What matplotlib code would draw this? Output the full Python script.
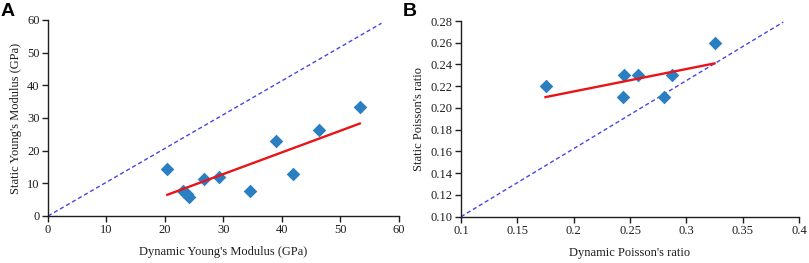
import numpy as np
import matplotlib
matplotlib.use('Agg')
import matplotlib.pyplot as plt

# Panel A: Young's modulus (GPa)
dyn_E = [20.4, 23.0, 23.7, 24.1, 26.7, 29.3, 34.5, 38.9, 41.9, 46.4, 53.3]
sta_E = [14.5, 7.7, 6.8, 5.8, 11.4, 12.0, 7.7, 22.9, 12.9, 26.2, 33.3]
fit_E_x = [20.4, 53.3]
fit_E_y = [6.5, 28.3]
diag_E_x = [0, 57]
diag_E_y = [0, 59]

# Panel B: Poisson's ratio
dyn_nu = [0.175, 0.245, 0.244, 0.257, 0.280, 0.287, 0.325]
sta_nu = [0.22, 0.23, 0.21, 0.23, 0.21, 0.23, 0.26]
fit_nu_x = [0.175, 0.325]
fit_nu_y = [0.210, 0.241]
diag_nu_x = [0.1, 0.386]
diag_nu_y = [0.1, 0.279]

serif = 'Liberation Serif'
pt_color = '#2a7fc1'
ink = '#1e1e1e'

fig = plt.figure(figsize=(8.09, 2.63), dpi=100)
W, H = 809., 263.
axA = fig.add_axes([48 / W, 1 - 216 / H, 351 / W, 196 / H])
axB = fig.add_axes([461 / W, 1 - 216.7 / H, 338 / W, 195.7 / H])


def style(ax):
    for s in ['top', 'right']:
        ax.spines[s].set_visible(False)
    for s in ['left', 'bottom']:
        ax.spines[s].set_linewidth(1.0)
        ax.spines[s].set_color(ink)
    ax.tick_params(direction='out', length=4, width=1.0, labelsize=9,
                   colors=ink, pad=2)
    for lbl in ax.get_xticklabels() + ax.get_yticklabels():
        lbl.set_fontfamily(serif)


def draw(ax, x, y, fx, fy, dx, dy):
    ax.plot(dx, dy, linestyle=(0, (3, 2)), color='#4646e6', lw=1.0, zorder=1)
    ax.scatter(x, y, marker='D', s=48, color=pt_color, zorder=2, linewidths=0)
    ax.plot(fx, fy, color='#e8141a', lw=1.7, zorder=3)


draw(axA, dyn_E, sta_E, fit_E_x, fit_E_y, diag_E_x, diag_E_y)
axA.set_xlim(0, 60)
axA.set_ylim(0, 60)
axA.set_xticks(np.arange(0, 61, 10))
axA.set_yticks(np.arange(0, 61, 10))
style(axA)
axA.set_xlabel("Dynamic Young's Modulus (GPa)", fontfamily=serif, fontsize=9,
               labelpad=7, color=ink)
axA.set_ylabel("Static Young's Modulus (GPa)", fontfamily=serif, fontsize=9,
               labelpad=4, color=ink)

draw(axB, dyn_nu, sta_nu, fit_nu_x, fit_nu_y, diag_nu_x, diag_nu_y)
axB.set_xlim(0.1, 0.4)
axB.set_ylim(0.1, 0.28)
axB.set_xticks([0.1, 0.15, 0.2, 0.25, 0.3, 0.35, 0.4])
axB.set_xticklabels(['0.1', '0.15', '0.2', '0.25', '0.3', '0.35', '0.4'])
axB.set_yticks(np.arange(0.10, 0.281, 0.02))
axB.set_yticklabels(['%.2f' % v for v in np.arange(0.10, 0.281, 0.02)])
style(axB)
axB.set_xlabel("Dynamic Poisson's ratio", fontfamily=serif, fontsize=9,
               labelpad=7, color=ink)
axB.set_ylabel("Static Poisson's ratio", fontfamily=serif, fontsize=9,
               labelpad=4, color=ink)

fig.text(1 / W, 1 - 3 / H, 'A', fontfamily='Liberation Sans', fontweight='bold',
         fontsize=14, va='top', ha='left')
fig.text(403 / W, 1 - 3 / H, 'B', fontfamily='Liberation Sans', fontweight='bold',
         fontsize=14, va='top', ha='left')

fig.savefig('out.png', dpi=100)
